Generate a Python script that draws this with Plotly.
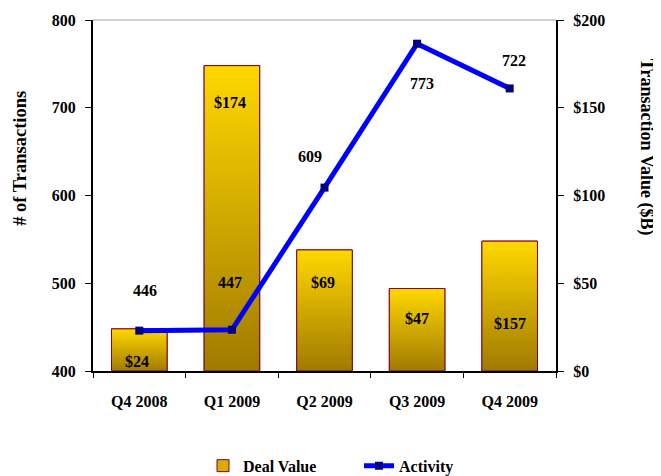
import plotly.graph_objects as go

# ---- data ----
quarters = ["Q4 2008", "Q1 2009", "Q2 2009", "Q3 2009", "Q4 2009"]
deal_value = [24, 174, 69, 47, 74]            # bar heights as drawn ($B)
deal_value_labels = ["$24", "$174", "$69", "$47", "$157"]
activity = [446, 447, 609, 773, 722]          # # of transactions
right_ticks = [0, 50, 100, 150, 200]
right_tick_text = ["$0", "$50", "$100", "$150", "$200"]

# ---- styling ----
FONT = "Liberation Serif"
BAR_W = 0.6
line_label_dx = [6, -2, -15, 5, 4]
line_label_dy = [40, 47, 31, -40, 28]
bar_label_dx = [-2, -2, -2, 0, 0]
bar_label_dy = [-33, -37, -33, -30, -82]

idx = list(range(len(quarters)))

fig = go.Figure()

# real bar trace (gives the legend entry)
fig.add_trace(go.Bar(
    x=idx, y=deal_value, width=BAR_W, name="Deal Value",
    marker=dict(color="#D9AC00", line=dict(color="#800030", width=1)),
    yaxis="y",
))

# gradient overlay for each bar
for i, v in zip(idx, deal_value):
    fig.add_trace(go.Scatter(
        x=[i - BAR_W / 2, i + BAR_W / 2, i + BAR_W / 2, i - BAR_W / 2, i - BAR_W / 2],
        y=[0, 0, v, v, 0],
        mode="lines", fill="toself",
        fillgradient=dict(type="vertical",
                          colorscale=[[0, "#A07A00"], [1, "#FFD800"]]),
        line=dict(color="#800030", width=1),
        showlegend=False, hoverinfo="skip", yaxis="y",
    ))

fig.add_trace(go.Scatter(
    x=idx, y=activity, name="Activity", yaxis="y2",
    mode="lines+markers",
    line=dict(color="#0000FF", width=5),
    marker=dict(symbol="square", size=8, color="#000080"),
))

annotations = []
for i, v, t, dx, dy in zip(idx, activity, activity, line_label_dx, line_label_dy):
    annotations.append(dict(x=i, y=v, xref="x", yref="y2", text=str(t),
                            showarrow=False, xshift=dx, yshift=dy,
                            xanchor="center", yanchor="middle",
                            font=dict(size=16, color="black", family=FONT, weight="bold")))
for i, v, t, dx, dy in zip(idx, deal_value, deal_value_labels, bar_label_dx, bar_label_dy):
    annotations.append(dict(x=i, y=v, xref="x", yref="y", text=t,
                            showarrow=False, xshift=dx, yshift=dy,
                            xanchor="center", yanchor="middle",
                            font=dict(size=16, color="black", family=FONT, weight="bold")))
annotations.append(dict(x=-0.158, y=0.607, xref="paper", yref="paper",
                        xanchor="center", yanchor="middle",
                        text="# of Transactions", textangle=-90, showarrow=False,
                        font=dict(size=18.5, color="black", family=FONT, weight="bold")))
annotations.append(dict(x=1.197, y=0.638, xref="paper", yref="paper",
                        xanchor="center", yanchor="middle",
                        text="Transaction Value ($B)", textangle=90, showarrow=False,
                        font=dict(size=18, color="black", family=FONT, weight="bold")))

fig.update_layout(
    width=653, height=468,
    margin=dict(l=85, r=105, t=12, b=105, autoexpand=False),
    paper_bgcolor="white", plot_bgcolor="white",
    font=dict(family=FONT, size=16, color="black", weight="bold"),
    showlegend=True,
    legend=dict(orientation="h", x=0.2376, y=-0.27, xanchor="left", yanchor="middle",
                entrywidth=111, entrywidthmode="pixels",
                font=dict(size=16, family=FONT, weight="bold"), bgcolor="rgba(0,0,0,0)"),
    xaxis=dict(range=[-0.5, 4.5], tickvals=idx, ticktext=quarters, ticks="",
               showline=True, linecolor="black", linewidth=2, showgrid=False,
               zeroline=False, ticklabelstandoff=15, automargin=False,
               minor=dict(tickvals=[-0.5, 0.5, 1.5, 2.5, 3.5, 4.5], ticks="outside",
                          ticklen=5, tickcolor="black", tickwidth=1, showgrid=False),
               fixedrange=True),
    yaxis=dict(range=[0, 200], tickvals=right_ticks, ticktext=right_tick_text,
               side="right", showline=True, linecolor="black", linewidth=2,
               ticks="outside", ticklen=6, tickcolor="black", showgrid=False,
               zeroline=False, ticklabelstandoff=6, automargin=False),
    yaxis2=dict(range=[400, 800], dtick=100, overlaying="y", side="left",
                showline=True, linecolor="black", linewidth=2,
                ticks="outside", ticklen=6, tickcolor="black", showgrid=False,
                zeroline=False, ticklabelstandoff=6, automargin=False),
    annotations=annotations,
    shapes=[dict(type="line", xref="paper", yref="paper", x0=0, x1=1, y0=1, y1=1,
                 line=dict(color="#A0A0A0", width=1))],
)

fig.write_html("out.html")
